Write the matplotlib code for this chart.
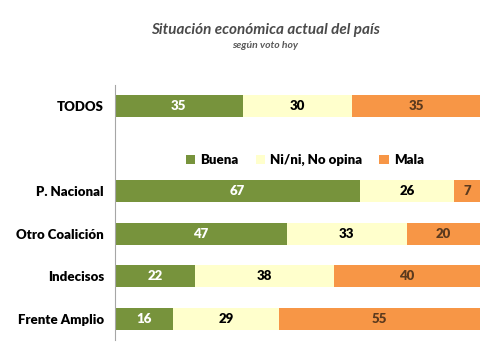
import numpy as np
import matplotlib
matplotlib.use("Agg")
import matplotlib.pyplot as plt
from matplotlib.patches import Patch

groups = ["TODOS", "", "P. Nacional", "Otro Coalición", "Indecisos", "Frente Amplio"]
buena = [35, None, 67, 47, 22, 16]
ninguna = [30, None, 26, 33, 38, 29]
mala = [35, None, 7, 20, 40, 55]

series_names = ["Buena", "Ni/ni, No opina", "Mala"]
colors = ["#77933C", "#FFFFCC", "#F79646"]
text_colors = ["white", "black", "#5C3A1E"]

plt.rcParams['font.family'] = ['Lato', 'DejaVu Sans']

fig = plt.figure(figsize=(5, 3.56), dpi=100)
ax = fig.add_axes([0.23, 0.045, 0.73, 0.716])

pos = np.arange(len(groups))
left = np.zeros(len(groups))
for name, vals, col, tcol in zip(series_names, [buena, ninguna, mala], colors, text_colors):
    for i, v in enumerate(vals):
        if v is None:
            continue
        ax.barh(pos[i], v, left=left[i], height=0.52, color=col, edgecolor='none')
        ax.text(left[i] + v / 2, pos[i], str(v), ha='center', va='center',
                color=tcol, fontsize=9.5, fontweight='heavy')
        left[i] += v

ax.set_xlim(0, 100)
ax.set_ylim(5.5, -0.5)
ax.set_yticks(pos)
ax.set_yticklabels(groups, fontsize=9.5, fontweight='heavy')
ax.tick_params(axis='y', length=0, pad=8)
ax.set_xticks([])
for s in ['top', 'right', 'bottom']:
    ax.spines[s].set_visible(False)
ax.spines['left'].set_color('#A6A6A6')

handles = [Patch(facecolor=c, edgecolor='none') for c in colors]
leg = ax.legend(handles, series_names, loc='center',
                bbox_to_anchor=(0.52, 1 - 1.5 / 6 - 0.045), bbox_transform=ax.transAxes,
                ncol=3, frameon=False, fontsize=9.5, handlelength=0.7, handleheight=0.7,
                handletextpad=0.4, columnspacing=1.3)
for t in leg.get_texts():
    t.set_fontweight('heavy')

fig.text(0.53, 0.915, "Situación económica actual del país", ha='center', va='center',
         fontsize=11, fontstyle='italic', fontweight='bold', color='#4a4a4a')
fig.text(0.53, 0.872, "según voto hoy", ha='center', va='center',
         fontsize=7.5, fontstyle='italic', fontweight='bold', color='#595959')

fig.savefig("out.png", dpi=100)
